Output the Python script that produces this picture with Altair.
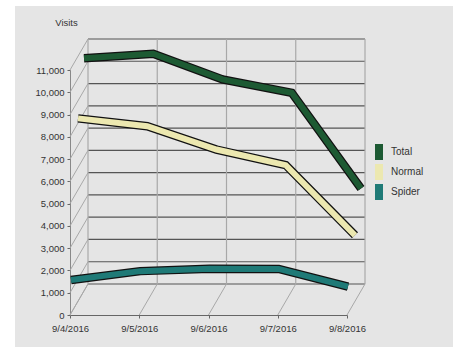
import altair as alt
import pandas as pd

dates = ["9/4/2016", "9/5/2016", "9/6/2016", "9/7/2016", "9/8/2016"]
series_names = ["Total", "Normal", "Spider"]
total = [10450, 10650, 9500, 8900, 4600]
normal = [8200, 7850, 6800, 6100, 2950]
spider = [1480, 1880, 1990, 1980, 1180]
y_ticks = [0, 1000, 2000, 3000, 4000, 5000, 6000, 7000, 8000, 9000, 10000, 11000]

colors = ["#1d5a33", "#ece8b0", "#1f7a77"]
# depth offsets (style) per series: (dx, dy)
depth = {"Total": (14, -24), "Normal": (8, -14), "Spider": (1, -2)}
WALL_DX, WALL_DY = 18, -31

rows = []
for name, vals in zip(series_names, [total, normal, spider]):
    for d, v in zip(dates, vals):
        rows.append({"date": d, "series": name, "visits": v})
df = pd.DataFrame(rows)
levels = pd.DataFrame({"level": y_ticks})
dates_df = pd.DataFrame({"date": dates})

FONT = "Liberation Sans Narrow, Arial Narrow, Liberation Sans, Arial, sans-serif"
FS = 9.5

xscale = alt.Scale(type="point", domain=dates, range=[55, 332], padding=0)
yscale = alt.Scale(domain=[0, 11000], range=[309, 64], nice=False, zero=True)

x_axis = alt.Axis(orient="bottom", offset=-32, labelAngle=0, tickSize=3, title=None,
                  domainColor="#666", tickColor="#666", labelColor="#333",
                  labelFont=FONT, labelFontSize=FS, labelPadding=5, grid=False,
                  labelOverlap=False)
y_axis = alt.Axis(orient="left", offset=-55, values=y_ticks, format=",d", tickSize=3,
                  domainColor="#888", tickColor="#666", labelColor="#333",
                  labelFont=FONT, labelFontSize=FS, labelPadding=3, grid=False,
                  labelOverlap=False, labelFlush=False,
                  title="Visits", titleAngle=0, titleX=-4, titleY=16, titleAlign="center",
                  titleBaseline="middle", titleFont=FONT, titleFontSize=FS,
                  titleFontWeight="normal", titleColor="#333")


def X(field=None, datum=None):
    if datum is not None:
        return alt.X(datum=datum, type="ordinal", scale=xscale, axis=x_axis)
    return alt.X(field, type="ordinal", scale=xscale, axis=x_axis, sort=dates)


def Y(field=None, datum=None):
    if datum is not None:
        return alt.Y(datum=datum, type="quantitative", scale=yscale, axis=y_axis)
    return alt.Y(field, type="quantitative", scale=yscale, axis=y_axis)


# back wall horizontal gridlines
back_h = alt.Chart(levels).mark_rule(color="#555", strokeWidth=1.2,
                                     xOffset=WALL_DX, x2Offset=WALL_DX,
                                     yOffset=WALL_DY).encode(
    x=X(datum=dates[0]),
    x2=alt.X2(datum=dates[-1]),
    y=Y("level"),
)
# back wall vertical gridlines
back_v = alt.Chart(dates_df).mark_rule(color="#a8a8a8", strokeWidth=1.2,
                                       xOffset=WALL_DX, yOffset=WALL_DY,
                                       y2Offset=WALL_DY).encode(
    x=X("date"),
    y=Y(datum=0),
    y2=alt.Y2(datum=11000),
)
# left wall diagonals
left_d = alt.Chart(levels).mark_rule(color="#a8a8a8", strokeWidth=1,
                                     xOffset=WALL_DX, yOffset=WALL_DY).encode(
    x=X(datum=dates[0]),
    x2=alt.X2(datum=dates[0]),
    y=Y("level"),
    y2=alt.Y2("level"),
)
# floor diagonals
floor_d = alt.Chart(dates_df).mark_rule(color="#a8a8a8", strokeWidth=1,
                                        xOffset=WALL_DX, yOffset=WALL_DY).encode(
    x=X("date"),
    x2=alt.X2("date"),
    y=Y(datum=0),
    y2=alt.Y2(datum=0),
)

layers = [back_h, back_v, left_d, floor_d]

cscale = alt.Scale(domain=series_names, range=colors)

for name, col in zip(series_names, colors):
    dx, dy = depth[name]
    base = alt.Chart(df).transform_filter(alt.datum.series == name)
    outline = base.mark_line(color="#111", strokeWidth=8.5, xOffset=dx, yOffset=dy,
                             strokeCap="butt").encode(x=X("date"), y=Y("visits"))
    fill = base.mark_line(color=col, strokeWidth=6, xOffset=dx, yOffset=dy,
                          strokeCap="butt").encode(x=X("date"), y=Y("visits"))
    layers += [outline, fill]

# legend carrier: no drawn marks, only feeds the legend with filled swatches
legend_layer = alt.Chart(df).transform_filter("false").mark_point(
    filled=True, shape="M-0.5,-1H0.5V1H-0.5Z", opacity=1, strokeWidth=0
).encode(
    x=X("date"),
    y=Y("visits"),
    color=alt.Color("series:N", scale=cscale,
                    legend=alt.Legend(title=None, orient="none", legendX=356, legendY=138,
                                      padding=0, rowPadding=4, symbolStrokeWidth=0,
                                      symbolSize=256,
                                      labelFont=FONT, labelFontSize=10, labelColor="#333",
                                      labelOffset=4, symbolOpacity=1)),
)
layers.append(legend_layer)

chart = alt.layer(*layers).properties(
    width=438, height=341,
    padding={"left": 15, "top": 6, "right": 0, "bottom": 0},
    autosize=alt.AutoSizeParams(type="none"),
    background="white",
).configure_view(fill="#e5e5e5", stroke=None).configure_axis(labelOverlap=False)

chart.save("out.html", embed_options={"renderer": "svg", "actions": False})
